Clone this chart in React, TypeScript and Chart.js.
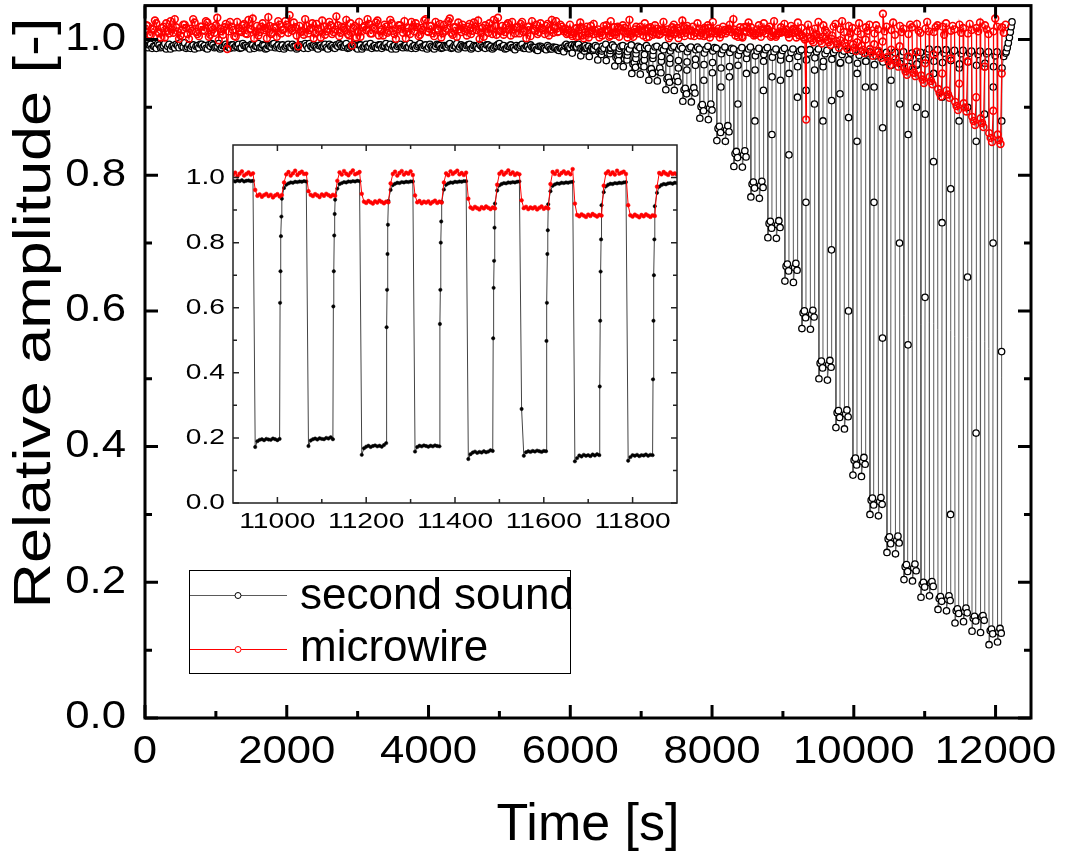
import React, { useEffect, useRef } from 'react';
import { Chart, registerables } from 'chart.js';

Chart.register(...registerables);

const FONT = '"Liberation Sans", Arial, Helvetica, sans-serif';

// ---------------- series names ----------------
const seriesNames = ['second sound', 'microwire'];
const xTitle = 'Time [s]';
const yTitle = 'Relative amplitude [-]';

// ---------------- main panel ticks ----------------
const mainXTicks = [0, 2000, 4000, 6000, 8000, 10000, 12000];
const mainXTickLabels = ['0', '2000', '4000', '6000', '8000', '10000', '12000'];
const mainXMinor = [1000, 3000, 5000, 7000, 9000, 11000];
const mainYTicks = [0, 0.2, 0.4, 0.6, 0.8, 1.0];
const mainYTickLabels = ['0.0', '0.2', '0.4', '0.6', '0.8', '1.0'];
const mainYMinor = [0.1, 0.3, 0.5, 0.7, 0.9];

// ---------------- inset ticks ----------------
const insetXTicks = [11000, 11200, 11400, 11600, 11800];
const insetXTickLabels = ['11000', '11200', '11400', '11600', '11800'];
const insetXMinor = [11100, 11300, 11500, 11700];
const insetYTicks = [0, 0.2, 0.4, 0.6, 0.8, 1.0];
const insetYTickLabels = ['0.0', '0.2', '0.4', '0.6', '0.8', '1.0'];
const insetYMinor = [0.1, 0.3, 0.5, 0.7, 0.9];

// ---------------- main panel data ----------------
// quiet part: readings at t = i*BASE_STEP ("Base") and t = i*BASE_STEP + BASE_STEP/2 ("BaseMid")
const BASE_STEP = 40;
const ssBase = [
  0.991,0.988,0.993,0.990,0.987,0.992,0.989,0.994,0.990,0.986,
  0.991,0.993,0.988,0.990,0.995,0.989,0.987,0.992,0.990,0.988,
  0.993,0.991,0.986,0.990,0.992,0.989,0.994,0.988,0.991,0.990,
  0.987,0.992,0.990,0.993,0.988,0.991,0.989,0.986,0.992,0.990,
  0.994,0.989,0.991,0.987,0.990,0.993,0.988,0.992,0.990,0.986,
  0.991,0.989,0.993,0.990,0.988,0.992,0.987,0.991,0.994,0.989,
  0.990,0.986,0.992,0.990,0.988,0.993,0.991,0.987,0.990,0.992,
  0.989,0.994,0.988,0.991,0.990,0.986,0.992,0.989,0.993,0.990,
  0.987,0.991,0.988,0.992,0.990,0.994,0.989,0.986,0.991,0.990,
  0.993,0.988,0.992,0.989,0.987,0.991,0.990,0.994,0.988,0.992,
  0.989,0.990,0.986,0.993,0.991,0.988,0.990,0.992,0.987,0.991,
  0.994,0.989,0.990,0.988,0.992,0.986,0.991,0.990,0.993,0.989,
  0.987,0.992,0.990,0.988,0.991,0.994,0.989,0.986,0.990,0.992,
  0.988,0.991,0.989,0.993,0.987,0.990,0.992,0.988,0.985,0.990,
  0.989,0.987,0.991,0.986,0.989,0.988,0.984,0.987,
];
const ssBaseMid = [
  0.989,0.992,0.987,0.990,0.994,0.988,0.991,0.986,0.993,0.990,
  0.988,0.991,0.995,0.989,0.987,0.992,0.990,0.986,0.991,0.993,
  0.989,0.987,0.992,0.994,0.988,0.990,0.986,0.991,0.993,0.989,
  0.992,0.988,0.990,0.987,0.994,0.991,0.989,0.993,0.987,0.990,
  0.988,0.992,0.986,0.991,0.989,0.994,0.990,0.987,0.992,0.989,
  0.993,0.988,0.990,0.986,0.991,0.989,0.994,0.987,0.990,0.992,
  0.988,0.991,0.989,0.993,0.986,0.990,0.988,0.992,0.994,0.989,
  0.991,0.987,0.990,0.993,0.988,0.992,0.986,0.990,0.989,0.994,
  0.990,0.988,0.992,0.987,0.991,0.989,0.993,0.990,0.986,0.992,
  0.989,0.991,0.988,0.994,0.990,0.987,0.992,0.989,0.991,0.986,
  0.993,0.988,0.990,0.992,0.987,0.991,0.989,0.994,0.988,0.990,
  0.986,0.992,0.989,0.991,0.993,0.988,0.990,0.987,0.991,0.989,
  0.992,0.988,0.986,0.990,0.993,0.989,0.991,0.987,0.990,0.988,
  0.985,0.989,0.991,0.987,0.990,0.986,0.989,0.988,0.984,0.990,
  0.987,0.985,0.989,0.986,0.988,0.985,0.987,0.984,
];
const mwBase = [
  1.012,1.020,1.006,1.015,1.024,1.009,1.017,1.003,1.013,1.027,
  1.010,1.018,1.001,1.014,1.022,1.008,1.016,1.030,1.011,1.005,
  1.019,1.013,1.025,1.007,1.015,1.021,0.999,1.012,1.018,0.986,
  1.026,1.014,1.004,1.017,1.011,1.023,1.008,1.016,1.031,1.012,
  1.006,1.019,1.014,1.002,1.020,1.010,1.017,1.027,1.009,1.015,
  1.022,1.036,1.013,1.018,0.990,1.011,1.007,1.020,1.014,1.024,
  1.009,1.016,1.003,1.019,1.012,1.026,1.008,1.015,1.021,1.010,
  1.017,1.029,1.006,0.991,1.020,1.011,1.004,1.018,1.014,1.023,
  1.009,1.016,1.028,1.012,1.006,1.019,1.013,1.024,1.008,1.015,
  1.021,1.010,1.002,1.017,1.026,1.012,1.018,1.007,1.014,1.030,
  1.011,1.020,1.005,1.016,1.023,1.009,1.013,1.027,1.010,1.018,
  1.004,1.015,1.022,1.012,1.019,1.008,1.025,1.014,1.001,1.017,
  1.021,1.010,1.016,1.029,1.007,1.013,1.020,1.011,1.024,1.006,
  1.015,1.018,1.009,1.026,1.013,1.019,1.005,1.016,1.022,1.011,
  1.017,1.008,1.023,1.014,1.010,1.027,1.012,1.019,
];
const mwBaseMid = [
  1.021,1.007,1.016,1.028,1.011,1.003,1.019,1.024,1.009,1.015,
  1.030,1.012,1.006,1.022,1.017,1.001,1.013,1.025,1.008,1.019,
  1.014,1.027,1.004,1.018,1.010,1.032,1.016,1.007,1.023,1.012,
  1.019,1.005,1.026,1.013,1.021,1.009,1.029,1.015,1.002,1.020,
  1.011,1.024,1.017,1.033,1.008,1.018,1.004,1.022,1.014,1.027,
  1.010,1.016,1.025,1.006,1.020,1.013,1.030,1.009,1.017,1.002,
  1.023,1.012,1.028,1.007,1.016,1.021,1.011,1.034,1.005,1.019,
  1.014,1.008,1.024,1.017,1.003,1.026,1.012,1.020,1.030,1.009,
  1.018,1.025,1.006,1.015,1.022,1.010,1.029,1.013,1.001,1.021,
  1.016,1.027,1.011,1.008,1.019,1.024,1.005,1.017,1.028,1.012,
  1.020,1.009,1.026,1.014,1.003,1.022,1.016,1.031,1.007,1.018,
  1.025,1.011,1.017,1.006,1.023,1.013,1.019,1.028,1.010,1.004,
  1.016,1.024,1.008,1.020,1.032,1.012,1.007,1.021,1.015,1.026,
  1.009,1.018,1.023,1.011,1.002,1.019,1.027,1.013,1.008,1.024,
  1.014,1.020,1.006,1.029,1.017,1.011,1.022,1.015,
];

// heater pulses: drop at PULSE_FIRST + k * PULSE_PERIOD
const PULSE_FIRST = 5905;
const PULSE_PERIOD = 120;

// second sound, per pulse: first point after the drop, three plateau readings, two rise readings
const ssDip = [
  0.982,0.980,0.976,0.975,0.970,0.969,0.961,0.960,0.950,0.949,
  0.940,0.939,0.926,0.925,0.909,0.908,0.884,0.882,0.851,0.850,
  0.813,0.812,0.768,0.766,0.708,0.707,0.644,0.642,0.574,0.573,
  0.500,0.498,0.428,0.426,0.358,0.356,0.300,0.298,0.244,0.242,
  0.204,0.202,0.178,0.180,0.160,0.158,0.140,0.142,0.128,0.126,
  0.108,0.112,
];
const ssLowA = [
  0.991,0.989,0.987,0.985,0.982,0.980,0.974,0.972,0.964,0.962,
  0.955,0.953,0.942,0.940,0.926,0.924,0.901,0.899,0.869,0.867,
  0.832,0.830,0.787,0.785,0.729,0.727,0.666,0.664,0.597,0.595,
  0.523,0.521,0.450,0.448,0.380,0.378,0.321,0.319,0.264,0.262,
  0.223,0.221,0.197,0.199,0.176,0.175,0.158,0.157,0.147,0.149,
  0.129,0.127,
];
const ssLowC = [
  0.993,0.992,0.989,0.988,0.984,0.985,0.976,0.977,0.966,0.967,
  0.957,0.958,0.944,0.945,0.928,0.929,0.904,0.905,0.872,0.873,
  0.835,0.836,0.790,0.791,0.732,0.733,0.669,0.670,0.600,0.601,
  0.526,0.527,0.453,0.454,0.383,0.384,0.324,0.325,0.267,0.268,
  0.226,0.227,0.200,0.201,0.179,0.180,0.161,0.162,0.150,0.151,
  0.131,0.132,
];
const ssLowB = [
  0.987,0.988,0.983,0.984,0.978,0.979,0.969,0.970,0.959,0.960,
  0.950,0.951,0.937,0.938,0.920,0.921,0.895,0.896,0.863,0.864,
  0.826,0.827,0.781,0.782,0.722,0.723,0.659,0.660,0.590,0.591,
  0.516,0.517,0.443,0.444,0.373,0.374,0.314,0.315,0.257,0.258,
  0.216,0.217,0.193,0.194,0.172,0.173,0.154,0.155,0.143,0.144,
  0.124,0.125,
];
const ssRiseA = [
  0.989,0.990,0.987,0.986,0.983,0.984,0.978,0.977,0.972,0.970,
  0.972,0.968,0.965,0.958,0.955,0.962,0.940,0.951,0.930,0.945,
  0.905,0.950,0.880,0.925,0.860,0.940,0.830,0.915,0.760,0.905,
  0.880,0.690,0.920,0.600,0.850,0.930,0.760,0.560,0.940,0.700,
  0.550,0.900,0.620,0.820,0.730,0.300,0.880,0.650,0.420,0.890,
  0.700,0.540,
];
const ssRiseB = [
  0.990,0.991,0.989,0.988,0.986,0.987,0.983,0.982,0.979,0.978,
  0.977,0.975,0.972,0.969,0.967,0.971,0.963,0.966,0.958,0.960,
  0.962,0.972,0.955,0.968,0.945,0.970,0.950,0.960,0.925,0.955,
  0.960,0.910,0.965,0.885,0.950,0.968,0.930,0.870,0.970,0.905,
  0.860,0.962,0.890,0.950,0.915,0.780,0.958,0.900,0.850,0.960,
  0.930,0.880,
];
// second sound, three readings on the high level after each pulse
const ssHigh = [
  0.990,0.988,0.992, 0.989,0.993,0.987, 0.991,0.988,0.990, 0.986,0.991,0.989,
  0.990,0.987,0.993, 0.988,0.992,0.989, 0.987,0.990,0.991, 0.989,0.986,0.992,
  0.985,0.990,0.988, 0.988,0.991,0.987, 0.984,0.989,0.990, 0.987,0.985,0.991,
  0.983,0.988,0.990, 0.986,0.990,0.987, 0.982,0.987,0.989, 0.985,0.989,0.986,
  0.980,0.986,0.990, 0.983,0.988,0.987, 0.979,0.985,0.989, 0.981,0.987,0.986,
  0.977,0.984,0.988, 0.980,0.986,0.989, 0.976,0.983,0.987, 0.978,0.985,0.988,
  0.974,0.982,0.986, 0.977,0.984,0.987, 0.972,0.981,0.986, 0.975,0.983,0.985,
  0.970,0.980,0.985, 0.973,0.982,0.986, 0.968,0.979,0.984, 0.971,0.981,0.985,
  0.966,0.978,0.983, 0.970,0.980,0.984, 0.965,0.977,0.983, 0.968,0.979,0.982,
  0.963,0.976,0.982, 0.967,0.978,0.981, 0.962,0.975,0.981, 0.965,0.977,0.982,
  0.960,0.974,0.980, 0.964,0.976,0.981, 0.970,0.982,0.986, 0.968,0.981,0.985,
  0.966,0.980,0.985, 0.969,0.982,0.984, 0.964,0.979,0.984, 0.967,0.980,0.983,
  0.962,0.978,0.983, 0.965,0.979,0.982, 0.960,0.976,0.982, 0.958,0.975,0.980,
];
// recovery at the very end of the run
const ssTailTimes = [12150, 12165, 12180, 12195, 12208, 12220, 12232];
const ssTail = [0.982, 0.988, 0.995, 1.003, 1.011, 1.019, 1.026];

// microwire, per pulse: three plateau readings, one rise reading, three high readings
const mwLowA = [
  1.012,1.005,1.018,1.009,1.015,1.021,1.007,1.013,1.010,1.019,
  1.004,1.016,1.011,1.008,1.020,1.013,1.006,1.017,1.012,1.009,
  1.015,1.003,1.018,1.010,1.014,1.007,1.011,1.016,1.006,1.002,
  1.003,0.999,0.998,0.995,0.993,0.991,0.986,0.983,0.974,0.971,
  0.959,0.957,0.947,0.945,0.927,0.925,0.908,0.906,0.886,0.884,
  0.862,0.860,
];
const mwLowC = [
  1.016,1.010,1.006,1.020,1.003,1.013,1.011,1.017,1.004,1.012,
  1.018,1.007,1.015,1.011,1.005,1.019,1.010,1.003,1.016,1.012,
  1.006,1.018,1.012,1.004,1.019,1.009,1.015,1.010,1.003,0.999,
  0.998,0.996,0.993,0.990,0.988,0.985,0.981,0.978,0.968,0.966,
  0.953,0.951,0.941,0.939,0.921,0.919,0.902,0.900,0.880,0.877,
  0.855,0.852,
];
const mwLowB = [
  1.008,1.016,1.002,1.014,1.010,1.004,1.019,1.009,1.015,1.006,
  1.013,1.008,1.002,1.017,1.010,1.005,1.014,1.009,1.003,1.016,
  1.010,1.013,1.006,1.015,1.004,1.012,1.008,1.003,1.000,0.996,
  0.994,0.992,0.988,0.986,0.983,0.980,0.976,0.973,0.962,0.960,
  0.948,0.946,0.936,0.934,0.916,0.914,0.896,0.894,0.874,0.871,
  0.849,0.846,
];
const mwRise = [
  1.010,1.004,1.015,1.008,1.012,1.006,1.017,1.003,1.011,1.014,
  1.007,1.013,1.009,1.002,1.016,1.010,1.005,1.012,1.008,1.015,
  1.004,1.011,1.009,1.013,1.006,1.010,1.003,1.012,0.882,1.006,
  1.004,1.001,0.999,1.003,0.996,1.000,0.993,0.997,0.985,0.990,
  0.975,0.982,0.965,0.978,0.950,0.972,0.935,0.968,0.915,0.960,
  0.895,0.950,
];
const mwHigh = [
  1.014,1.022,1.008, 1.017,1.005,1.025, 1.011,1.019,1.003, 1.023,1.013,1.009,
  1.006,1.020,1.015, 1.027,1.010,1.018, 1.004,1.016,1.021, 1.012,1.029,1.007,
  1.019,1.009,1.014, 1.024,1.003,1.017, 1.011,1.021,1.008, 1.015,1.026,1.012,
  1.005,1.018,1.022, 1.013,1.008,1.028, 1.020,1.014,1.006, 1.010,1.024,1.016,
  1.017,1.007,1.021, 1.026,1.012,1.009, 1.008,1.019,1.014, 1.022,1.011,1.030,
  1.013,1.018,1.005, 1.019,1.025,1.010, 1.007,1.015,1.021, 1.024,1.009,1.016,
  1.012,1.027,1.004, 1.018,1.011,1.023, 1.009,1.020,1.014, 1.025,1.006,1.017,
  1.011,1.022,1.013, 1.016,1.008,1.026, 1.021,1.014,1.010, 1.006,1.019,1.023,
  1.015,1.027,1.011, 1.020,1.009,1.017, 1.012,1.024,1.008, 1.018,1.013,1.022,
  1.009,1.021,1.015, 1.038,1.012,1.019, 1.014,1.025,1.007, 1.020,1.011,1.016,
  1.008,1.022,1.018, 1.023,1.013,1.010, 1.016,1.026,1.012, 1.011,1.018,1.021,
  1.019,1.007,1.024, 1.013,1.020,1.015, 1.022,1.010,1.017, 1.009,1.023,1.014,
  1.017,1.012,1.025, 1.021,1.015,1.008, 1.012,1.031,1.019, 1.018,1.010,1.022,
];

// ---------------- inset data (10900 s to 11900 s, one sample every 5 s) ----------------
const INSET_T0 = 10900;
const INSET_STEP = 5;
const insetSs = [
  0.990,0.988,0.991,0.989,0.992,0.988,0.990,0.991,0.989,
  0.990, 0.172,0.190,0.194,0.196,0.193,0.197,0.195,0.194,0.198,0.196,0.193,0.197, 0.935,0.968, 0.978,0.982,0.985,0.984,0.987,0.986,0.988,0.987,0.989,
  0.988, 0.175,0.192,0.196,0.198,0.195,0.199,0.197,0.196,0.200,0.198,0.202,0.196, 0.932,0.966, 0.980,0.983,0.986,0.985,0.988,0.987,0.989,0.988,0.990,
  0.989, 0.148,0.168,0.173,0.176,0.172,0.175,0.177,0.174,0.176,0.173,0.178,0.184, 0.928,0.962, 0.977,0.981,0.984,0.983,0.986,0.985,0.987,0.986,0.988,
  0.988, 0.158,0.172,0.176,0.174,0.177,0.175,0.173,0.176,0.174,0.177,0.175,0.174, 0.925,0.963, 0.978,0.982,0.985,0.984,0.987,0.986,0.988,0.987,0.989,
  0.989, 0.135,0.150,0.155,0.158,0.154,0.157,0.155,0.159,0.156,0.158,0.162,0.160, 0.920,0.960, 0.976,0.980,0.983,0.982,0.985,0.984,0.986,0.985,0.987,
  0.988, 0.289,0.145,0.156,0.159,0.157,0.160,0.158,0.161,0.159,0.157,0.160,0.159, 0.918,0.958, 0.975,0.979,0.982,0.981,0.984,0.983,0.985,0.984,0.986,
  0.987, 0.128,0.138,0.146,0.143,0.148,0.145,0.147,0.144,0.149,0.146,0.150,0.147, 0.915,0.955, 0.973,0.978,0.981,0.980,0.983,0.982,0.984,0.983,0.985,
  0.986, 0.130,0.141,0.147,0.145,0.148,0.144,0.147,0.146,0.149,0.145,0.148,0.147, 0.912,0.953, 0.972,0.977,0.980,0.979,0.982,0.983,0.981,0.984,0.983,
];
// fast recovery readings, 61..64 s after each drop
const insetDropTimes = [10945, 11065, 11185, 11305, 11425, 11545, 11665, 11785];
const insetSsRise = [
  0.615,0.712,0.820,0.880,
  0.604,0.712,0.822,0.888,
  0.540,0.655,0.765,0.855,
  0.550,0.655,0.800,0.865,
  0.506,0.661,0.744,0.846,
  0.498,0.615,0.765,0.838,
  0.358,0.560,0.711,0.810,
  0.380,0.560,0.700,0.810,
];
const insetMw = [
  1.008,1.015,1.004,1.012,1.019,1.006,1.011,1.016,1.009,
  1.013, 0.962, 0.944,0.948,0.941,0.946,0.950,0.943,0.947,0.939,0.945,0.949,0.942,0.946, 0.985, 1.010,1.017,1.006,1.013,1.021,1.008,1.014,1.018,1.011,
  1.012, 0.958, 0.947,0.943,0.949,0.945,0.940,0.948,0.944,0.950,0.946,0.942,0.947,0.944, 0.990, 1.016,1.009,1.020,1.012,1.007,1.015,1.022,1.010,1.013,
  1.017, 0.950, 0.926,0.922,0.928,0.924,0.920,0.927,0.923,0.929,0.925,0.921,0.926,0.924, 0.982, 1.011,1.018,1.006,1.014,1.020,1.009,1.015,1.012,1.019,
  1.008, 0.945, 0.924,0.928,0.921,0.926,0.923,0.927,0.920,0.925,0.929,0.922,0.926,0.923, 0.985, 1.013,1.007,1.019,1.011,1.016,1.021,1.010,1.014,1.008,
  1.015, 0.935, 0.908,0.904,0.910,0.906,0.902,0.909,0.905,0.911,0.907,0.903,0.908,0.905, 0.978, 1.012,1.018,1.009,1.015,1.022,1.011,1.016,1.008,1.013,
  1.010, 0.930, 0.906,0.910,0.903,0.908,0.905,0.909,0.902,0.907,0.911,0.904,0.908,0.905, 0.980, 1.017,1.011,1.020,1.008,1.014,1.019,1.012,1.016,1.010,
  1.026, 0.920, 0.885,0.881,0.887,0.883,0.879,0.886,0.882,0.888,0.884,0.880,0.885,0.883, 0.975, 1.013,1.019,1.010,1.016,1.009,1.021,1.012,1.015,1.018,
  1.011, 0.915, 0.884,0.880,0.886,0.882,0.878,0.885,0.881,0.887,0.883,0.879,0.884,0.882, 0.972, 1.014,1.010,1.017,1.012,1.008,1.016,1.011,1.013,1.009,
];

// ---------------- colours ----------------
const SS_LINE = '#5a5a5a';
const SS_MARK = '#000000';
const MW_COLOR = '#ff0000';

type Pt = { x: number; y: number };

function buildMain(): { ss: Pt[]; mw: Pt[] } {
  const ss: Pt[] = [];
  const mw: Pt[] = [];
  ssBase.forEach((v, i) => {
    ss.push({ x: i * BASE_STEP, y: v });
    ss.push({ x: i * BASE_STEP + BASE_STEP / 2, y: ssBaseMid[i] });
  });
  mwBase.forEach((v, i) => {
    mw.push({ x: i * BASE_STEP, y: v });
    mw.push({ x: i * BASE_STEP + BASE_STEP / 2, y: mwBaseMid[i] });
  });
  for (let k = 0; k < ssLowA.length; k++) {
    const td = PULSE_FIRST + k * PULSE_PERIOD;
    ss.push({ x: td + 3, y: ssDip[k] });
    ss.push({ x: td + 20, y: ssLowA[k] });
    ss.push({ x: td + 38, y: ssLowC[k] });
    ss.push({ x: td + 55, y: ssLowB[k] });
    ss.push({ x: td + 60, y: ssRiseA[k] });
    ss.push({ x: td + 62, y: ssRiseB[k] });
    ss.push({ x: td + 66, y: ssHigh[3 * k] });
    ss.push({ x: td + 90, y: ssHigh[3 * k + 1] });
    ss.push({ x: td + 116, y: ssHigh[3 * k + 2] });
    mw.push({ x: td + 5, y: mwLowA[k] });
    mw.push({ x: td + 25, y: mwLowC[k] });
    mw.push({ x: td + 45, y: mwLowB[k] });
    mw.push({ x: td + 62, y: mwRise[k] });
    mw.push({ x: td + 66, y: mwHigh[3 * k] });
    mw.push({ x: td + 90, y: mwHigh[3 * k + 1] });
    mw.push({ x: td + 116, y: mwHigh[3 * k + 2] });
  }
  ssTail.forEach((v, i) => ss.push({ x: ssTailTimes[i], y: v }));
  return { ss, mw };
}

function buildInset(): { ss: Pt[]; mw: Pt[] } {
  const ss: Pt[] = insetSs.map((v, i) => ({ x: INSET_T0 + i * INSET_STEP, y: v }));
  insetDropTimes.forEach((td, p) => {
    for (let j = 0; j < 4; j++) ss.push({ x: td + 61 + j, y: insetSsRise[4 * p + j] });
  });
  ss.sort((a, b) => a.x - b.x);
  const mw: Pt[] = insetMw.map((v, i) => ({ x: INSET_T0 + i * INSET_STEP, y: v }));
  return { ss, mw };
}

// text drawn with a horizontal stretch factor along its own direction
function stretchedText(ctx: CanvasRenderingContext2D, text: string, x: number, y: number, sx: number) {
  ctx.save();
  ctx.translate(x, y);
  ctx.scale(sx, 1);
  ctx.fillText(text, 0, 0);
  ctx.restore();
}

type AxisSpec = {
  id: string;
  xMajor: number[]; xMinor: number[]; xLabels: string[];
  yMajor: number[]; yMinor: number[]; yLabels: string[];
  frameWidth: number; tickWidth: number; majorLen: number; minorLen: number;
  color: string; font: string; textStretch: number; xLabelOffset: number; yLabelOffset: number;
  extra?: (ctx: CanvasRenderingContext2D, chart: any) => void;
};

function axesPlugin(spec: AxisSpec) {
  return {
    id: 'frameAxes_' + spec.id,
    afterDatasetsDraw(chart: any) {
      const ctx: CanvasRenderingContext2D = chart.ctx;
      const a = chart.chartArea;
      const xs = chart.scales.x;
      const ys = chart.scales.y;
      ctx.save();
      ctx.strokeStyle = spec.color;
      ctx.lineCap = 'butt';
      ctx.lineWidth = spec.tickWidth;
      ctx.beginPath();
      const xt = (vals: number[], len: number) => {
        for (const v of vals) {
          const p = xs.getPixelForValue(v);
          ctx.moveTo(p, a.bottom); ctx.lineTo(p, a.bottom - len);
          ctx.moveTo(p, a.top); ctx.lineTo(p, a.top + len);
        }
      };
      const yt = (vals: number[], len: number) => {
        for (const v of vals) {
          const p = ys.getPixelForValue(v);
          ctx.moveTo(a.left, p); ctx.lineTo(a.left + len, p);
          ctx.moveTo(a.right, p); ctx.lineTo(a.right - len, p);
        }
      };
      xt(spec.xMajor, spec.majorLen);
      xt(spec.xMinor, spec.minorLen);
      yt(spec.yMajor, spec.majorLen);
      yt(spec.yMinor, spec.minorLen);
      ctx.stroke();
      ctx.lineWidth = spec.frameWidth;
      ctx.strokeRect(a.left, a.top, a.right - a.left, a.bottom - a.top);

      ctx.fillStyle = '#000';
      ctx.font = spec.font;
      ctx.textAlign = 'center';
      ctx.textBaseline = 'alphabetic';
      spec.xMajor.forEach((v, i) =>
        stretchedText(ctx, spec.xLabels[i], xs.getPixelForValue(v), a.bottom + spec.xLabelOffset, spec.textStretch));
      ctx.textAlign = 'right';
      ctx.textBaseline = 'middle';
      spec.yMajor.forEach((v, i) =>
        stretchedText(ctx, spec.yLabels[i], a.left - spec.yLabelOffset, ys.getPixelForValue(v), spec.textStretch));
      if (spec.extra) spec.extra(ctx, chart);
      ctx.restore();
    },
  };
}

function drawMainExtras(ctx: CanvasRenderingContext2D, chart: any) {
  const a = chart.chartArea;
  // axis titles
  ctx.fillStyle = '#000';
  ctx.font = `52px ${FONT}`;
  ctx.textAlign = 'center';
  ctx.textBaseline = 'alphabetic';
  ctx.fillText(xTitle, (a.left + a.right) / 2, 840);
  ctx.save();
  ctx.translate(50, 313);
  ctx.rotate(-Math.PI / 2);
  ctx.scale(1.21, 1);
  ctx.fillText(yTitle, 0, 0);
  ctx.restore();

  // legend
  const bx = 189.5, by = 570.5, bw = 381, bh = 103;
  ctx.fillStyle = '#fff';
  ctx.fillRect(bx, by, bw, bh);
  ctx.lineWidth = 1;
  ctx.strokeStyle = '#000';
  ctx.strokeRect(bx, by, bw, bh);
  const rows = [
    { y: 595.5, line: SS_LINE, mark: SS_MARK, label: seriesNames[0], base: 609 },
    { y: 649.5, line: MW_COLOR, mark: MW_COLOR, label: seriesNames[1], base: 661 },
  ];
  for (const r of rows) {
    ctx.strokeStyle = r.line;
    ctx.lineWidth = 1;
    ctx.beginPath();
    ctx.moveTo(190, r.y);
    ctx.lineTo(287, r.y);
    ctx.stroke();
    ctx.beginPath();
    ctx.arc(238, r.y, 3, 0, Math.PI * 2);
    ctx.fillStyle = '#fff';
    ctx.fill();
    ctx.strokeStyle = r.mark;
    ctx.stroke();
    ctx.fillStyle = '#000';
    ctx.font = `44px ${FONT}`;
    ctx.textAlign = 'left';
    ctx.textBaseline = 'alphabetic';
    ctx.fillText(r.label, 300, r.base);
  }
}

export default function App() {
  const mainRef = useRef<HTMLCanvasElement | null>(null);
  const insetRef = useRef<HTMLCanvasElement | null>(null);

  useEffect(() => {
    const main = buildMain();
    const inset = buildInset();

    const mainChart = new Chart(mainRef.current as HTMLCanvasElement, {
      type: 'line',
      data: {
        datasets: [
          {
            label: seriesNames[1],
            data: main.mw,
            order: 1,
            borderColor: MW_COLOR,
            borderWidth: 1.3,
            pointRadius: 3.4,
            pointBorderWidth: 1.6,
            pointBorderColor: MW_COLOR,
            pointBackgroundColor: 'rgba(255,255,255,0)',
            tension: 0,
          },
          {
            label: seriesNames[0],
            data: main.ss,
            order: 2,
            borderColor: SS_LINE,
            borderWidth: 1,
            pointRadius: 3.2,
            pointBorderWidth: 1.3,
            pointBorderColor: SS_MARK,
            pointBackgroundColor: '#fff',
            tension: 0,
          },
        ],
      },
      options: {
        animation: false,
        responsive: false,
        maintainAspectRatio: false,
        events: [],
        layout: { padding: { left: 0, right: 39, top: 3, bottom: 0 } },
        scales: {
          x: {
            type: 'linear', min: 0, max: 12500,
            ticks: { display: false }, grid: { display: false, drawTicks: false }, border: { display: false },
            afterFit: (s: any) => { s.height = 141; },
          },
          y: {
            type: 'linear', min: 0, max: 1.05,
            ticks: { display: false }, grid: { display: false, drawTicks: false }, border: { display: false },
            afterFit: (s: any) => { s.width = 145; },
          },
        },
        plugins: { legend: { display: false }, tooltip: { enabled: false }, title: { display: false } },
      },
      plugins: [
        axesPlugin({
          id: 'main',
          xMajor: mainXTicks, xMinor: mainXMinor, xLabels: mainXTickLabels,
          yMajor: mainYTicks, yMinor: mainYMinor, yLabels: mainYTickLabels,
          frameWidth: 3, tickWidth: 3, majorLen: 13, minorLen: 7,
          color: '#000', font: `38px ${FONT}`, textStretch: 1.15, xLabelOffset: 45, yLabelOffset: 19,
          extra: drawMainExtras,
        }),
      ],
    } as any);

    const insetChart = new Chart(insetRef.current as HTMLCanvasElement, {
      type: 'line',
      data: {
        datasets: [
          {
            label: seriesNames[1],
            data: inset.mw,
            order: 1,
            borderColor: MW_COLOR,
            borderWidth: 1,
            pointRadius: 1.9,
            pointBorderWidth: 0.5,
            pointBorderColor: MW_COLOR,
            pointBackgroundColor: MW_COLOR,
            tension: 0,
          },
          {
            label: seriesNames[0],
            data: inset.ss,
            order: 2,
            borderColor: '#444',
            borderWidth: 1,
            pointRadius: 1.7,
            pointBorderWidth: 0.5,
            pointBorderColor: '#000',
            pointBackgroundColor: '#000',
            tension: 0,
          },
        ],
      },
      options: {
        animation: false,
        responsive: false,
        maintainAspectRatio: false,
        events: [],
        layout: { padding: { left: 0, right: 23, top: 15, bottom: 0 } },
        scales: {
          x: {
            type: 'linear', min: 10900, max: 11900,
            ticks: { display: false }, grid: { display: false, drawTicks: false }, border: { display: false },
            afterFit: (s: any) => { s.height = 47; },
          },
          y: {
            type: 'linear', min: 0, max: 1.1,
            ticks: { display: false }, grid: { display: false, drawTicks: false }, border: { display: false },
            afterFit: (s: any) => { s.width = 73; },
          },
        },
        plugins: { legend: { display: false }, tooltip: { enabled: false }, title: { display: false } },
      },
      plugins: [
        axesPlugin({
          id: 'inset',
          xMajor: insetXTicks, xMinor: insetXMinor, xLabels: insetXTickLabels,
          yMajor: insetYTicks, yMinor: insetYMinor, yLabels: insetYTickLabels,
          frameWidth: 1.5, tickWidth: 1.5, majorLen: 6, minorLen: 4,
          color: '#222', font: `22px ${FONT}`, textStretch: 1.28, xLabelOffset: 25, yLabelOffset: 8,
        }),
      ],
    } as any);

    return () => {
      mainChart.destroy();
      insetChart.destroy();
    };
  }, []);

  return (
    <div style={{ position: 'absolute', left: 0, top: 0, width: 1070, height: 859, background: '#fff' }}>
      <canvas ref={mainRef} width={1070} height={859} style={{ position: 'absolute', left: 0, top: 0, display: 'block' }} />
      <canvas ref={insetRef} width={540} height={420} style={{ position: 'absolute', left: 160, top: 130, display: 'block' }} />
    </div>
  );
}
